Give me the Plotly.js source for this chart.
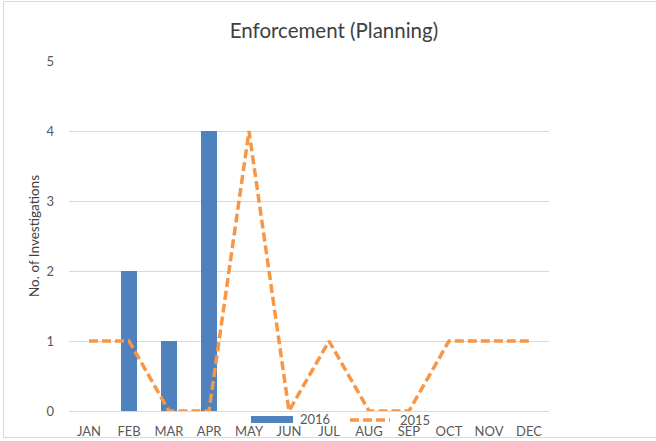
<!DOCTYPE html>
<html>
<head>
<meta charset="utf-8">
<script src="https://cdn.plot.ly/plotly-3.0.1.min.js"></script>
<style>
  html, body { margin: 0; padding: 0; background: #ffffff; overflow: hidden; }
  #frame { position: absolute; left: 3px; top: 1px; width: 700px; height: 437px; border: 1px solid #D9D9D9; box-sizing: border-box; }
  #chart { position: absolute; left: 0; top: 0; width: 656px; height: 441px; }
</style>
</head>
<body>
<div id="frame"></div>
<div id="chart"></div>
<script>
const months = ["JAN","FEB","MAR","APR","MAY","JUN","JUL","AUG","SEP","OCT","NOV","DEC"];
const values2016 = [0, 2, 1, 4, 0, 0, 0, 0, 0, 0, 0, 0];
const values2015 = [1, 1, 0, 0, 4, 0, 1, 0, 0, 1, 1, 1];
const yTicks = [0, 1, 2, 3, 4, 5];

const blue = "#4F81BD";
const orange = "#F79646";
const textGrey = "#595959";
const font = "Lato, 'Liberation Sans', sans-serif";

const traces = [
  {
    type: "bar", name: "2016", x: months, y: values2016,
    marker: { color: blue }, width: 0.4, showlegend: false, hoverinfo: "skip"
  },
  {
    type: "scatter", mode: "lines", name: "2015", x: months, y: values2015,
    line: { color: orange, width: 3.5, dash: "9px,4px" }, showlegend: false, hoverinfo: "skip"
  }
];

const layout = {
  width: 656, height: 441,
  margin: { l: 69, r: 107, t: 61, b: 30 },
  paper_bgcolor: "rgba(0,0,0,0)", plot_bgcolor: "rgba(0,0,0,0)",
  font: { family: font, color: textGrey, size: 13 },
  title: { text: "Enforcement (Planning)", x: 0.552, xref: "paper", xanchor: "center", y: 0.93, yanchor: "middle",
           font: { family: font, size: 20.5, color: "#404040" } },
  showlegend: false,
  xaxis: {
    type: "category", range: [-0.5, 11.5], fixedrange: true,
    showgrid: false, zeroline: false, showline: false, ticks: "",
    ticklabelstandoff: 11,
    tickfont: { family: font, size: 13, color: textGrey }
  },
  yaxis: {
    range: [0, 5], tickvals: yTicks, fixedrange: true,
    showgrid: true, gridcolor: "#D9D9D9", gridwidth: 1,
    zeroline: true, zerolinecolor: "#D9D9D9", zerolinewidth: 1,
    showline: false, ticks: "", ticklabelstandoff: 14,
    tickfont: { family: font, size: 13, color: textGrey },
    title: { text: "No. of Investigations", standoff: 3, font: { family: font, size: 13.5, color: "#404040" } }
  },
  shapes: [
    { type: "rect", xref: "paper", yref: "paper", x0: 0.3792, x1: 0.4667, y0: -0.0343, y1: -0.0143,
      fillcolor: blue, line: { width: 0 } },
    { type: "line", xref: "paper", yref: "paper", x0: 0.5854, x1: 0.6688, y0: -0.0257, y1: -0.0257,
      line: { color: orange, width: 3.5, dash: "9px,4px" } }
  ],
  annotations: [
    { text: "2016", xref: "paper", yref: "paper", x: 0.4771, y: -0.0229, xanchor: "left", yanchor: "middle",
      showarrow: false, font: { family: font, size: 13, color: textGrey } },
    { text: "2015", xref: "paper", yref: "paper", x: 0.6854, y: -0.0271, xanchor: "left", yanchor: "middle",
      showarrow: false, font: { family: font, size: 13, color: textGrey } }
  ]
};

Plotly.newPlot("chart", traces, layout, { displayModeBar: false, staticPlot: true });
</script>
</body>
</html>
